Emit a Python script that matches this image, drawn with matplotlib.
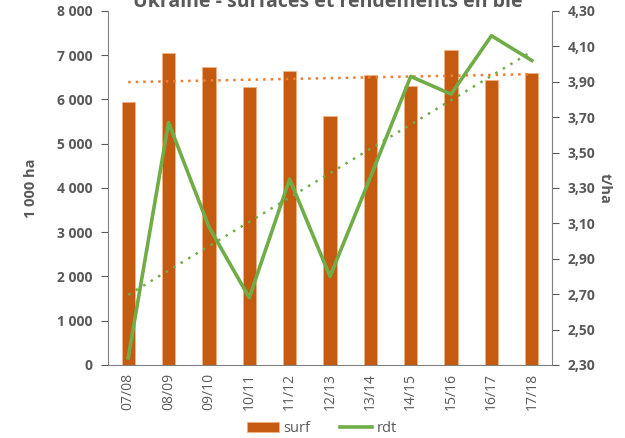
import numpy as np
import matplotlib
matplotlib.use("Agg")
import matplotlib.pyplot as plt
from matplotlib.ticker import FuncFormatter

plt.rcParams['font.family'] = ['Open Sans', 'DejaVu Sans']

campagnes = ["07/08", "08/09", "09/10", "10/11", "11/12", "12/13",
             "13/14", "14/15", "15/16", "16/17", "17/18"]
surf = [5950, 7040, 6740, 6280, 6650, 5620, 6550, 6300, 7120, 6450, 6600]
rdt = [2.34, 3.67, 3.08, 2.68, 3.35, 2.80, 3.36, 3.93, 3.83, 4.16, 4.02]

grey = "#595959"
orange = "#C55A11"
green = "#70AD47"

fig = plt.figure(figsize=(6.25, 4.38), dpi=100)
ax = fig.add_axes([0.1728, 0.1667, 0.7104, 0.8083])
ax2 = ax.twinx()

x = np.arange(len(campagnes))
ax.bar(x, surf, width=0.33, color=orange, edgecolor="#F4B183", linewidth=0.6,
       label="surf", zorder=2)

# tendances linéaires
p = np.polyfit(x, surf, 1)
ax.plot(x, np.polyval(p, x), color="#ED7D31", linestyle=(0, (1, 2)), lw=1.8, zorder=3)
q = np.polyfit(x, rdt, 1)
ax2.plot(x, np.polyval(q, x), color=green, linestyle=(0, (1, 2.5)), lw=1.8)

ax2.plot(x, rdt, color=green, lw=2.6, label="rdt")

ax.set_xlim(-0.5, 10.5)
ax.set_ylim(0, 8000)
ax.set_yticks(np.arange(0, 8001, 1000))
ax.yaxis.set_major_formatter(FuncFormatter(lambda v, pos: f"{int(v):,}".replace(",", " ")))
ax2.set_ylim(2.30, 4.30)
ax2.set_yticks(np.arange(2.30, 4.31, 0.20))
ax2.yaxis.set_major_formatter(FuncFormatter(lambda v, pos: f"{v:.2f}".replace(".", ",")))

ax.set_xticks(x)
ax.set_xticklabels(campagnes, rotation=90)
ax.tick_params(axis="x", length=0, pad=6, labelsize=10, colors=grey)
ax.tick_params(axis="y", direction="out", length=5, labelsize=10, colors=grey, pad=6)
ax2.tick_params(axis="y", direction="out", length=5, labelsize=10, colors=grey, pad=6)
for lab in ax.get_yticklabels() + ax2.get_yticklabels():
    lab.set_fontweight("bold")

for a in (ax, ax2):
    a.spines["top"].set_visible(False)
    for s in ("left", "right", "bottom"):
        a.spines[s].set_color("#808080")
ax.spines["right"].set_visible(False)
ax2.spines["left"].set_visible(False)
ax2.spines["bottom"].set_visible(False)

ax.set_ylabel("1 000 ha", color=grey, fontsize=10.5, fontweight="bold", labelpad=14)
ax2.set_ylabel("t/ha", color=grey, fontsize=10.5, fontweight="bold", rotation=270, labelpad=12)

fig.text(0.525, 0.995, "Ukraine - surfaces et rendements en blé", ha="center", va="center",
         fontsize=14, fontweight="bold", color=grey)

h1, l1 = ax.get_legend_handles_labels()
h2, l2 = ax2.get_legend_handles_labels()
fig.legend(h1 + h2[-1:], l1 + l2[-1:], loc="lower center", bbox_to_anchor=(0.515, -0.025),
           ncol=2, frameon=False, fontsize=10.5, labelcolor=grey, handlelength=2.2,
           columnspacing=2.0, handletextpad=0.3)

fig.savefig("out.png", dpi=100)
